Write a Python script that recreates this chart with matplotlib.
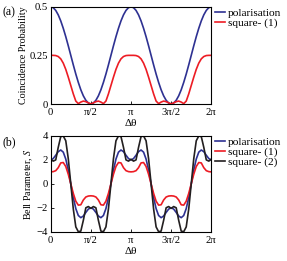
import numpy as np
import matplotlib
matplotlib.use("Agg")
import matplotlib.pyplot as plt

plt.rcParams['font.family'] = ['Liberation Serif', 'DejaVu Serif']
plt.rcParams['font.size'] = 7.7
plt.rcParams['mathtext.fontset'] = 'stix'

theta = np.linspace(0, 2 * np.pi, 65)

# (a) coincidence probability
prob_polarisation = [
    0.500, 0.495, 0.481, 0.458, 0.427, 0.389, 0.346, 0.299, 0.250, 0.201, 0.154, 0.111, 0.073, 0.042, 0.019, 0.005, 0.000,
    0.005, 0.019, 0.042, 0.073, 0.111, 0.154, 0.201, 0.250, 0.299, 0.346, 0.389, 0.427, 0.458, 0.481, 0.495, 0.500,
    0.495, 0.481, 0.458, 0.427, 0.389, 0.346, 0.299, 0.250, 0.201, 0.154, 0.111, 0.073, 0.042, 0.019, 0.005, 0.000,
    0.005, 0.019, 0.042, 0.073, 0.111, 0.154, 0.201, 0.250, 0.299, 0.346, 0.389, 0.427, 0.458, 0.481, 0.495, 0.500,
]
prob_square1 = [
    0.250, 0.250, 0.249, 0.244, 0.232, 0.210, 0.178, 0.138, 0.095, 0.052, 0.015, 0.002, 0.010, 0.015, 0.012, 0.006, 0.000,
    0.006, 0.012, 0.015, 0.010, 0.002, 0.015, 0.052, 0.095, 0.138, 0.178, 0.210, 0.232, 0.244, 0.249, 0.250, 0.250,
    0.250, 0.249, 0.244, 0.232, 0.210, 0.178, 0.138, 0.095, 0.052, 0.015, 0.002, 0.010, 0.015, 0.012, 0.006, 0.000,
    0.006, 0.012, 0.015, 0.010, 0.002, 0.015, 0.052, 0.095, 0.138, 0.178, 0.210, 0.232, 0.244, 0.249, 0.250, 0.250,
]

# (b) Bell parameter S
bell_polarisation = [
    2.000, 2.111, 2.389, 2.690, 2.828, 2.648, 2.072, 1.141, 0.000, -1.141, -2.072, -2.648, -2.828, -2.690, -2.389, -2.111, -2.000,
    -2.111, -2.389, -2.690, -2.828, -2.648, -2.072, -1.141, 0.000, 1.141, 2.072, 2.648, 2.828, 2.690, 2.389, 2.111, 2.000,
    2.111, 2.389, 2.690, 2.828, 2.648, 2.072, 1.141, 0.000, -1.141, -2.072, -2.648, -2.828, -2.690, -2.389, -2.111, -2.000,
    -2.111, -2.389, -2.690, -2.828, -2.648, -2.072, -1.141, 0.000, 1.141, 2.072, 2.648, 2.828, 2.690, 2.389, 2.111, 2.000,
]
bell_square1 = [
    1.00, 1.02, 1.10, 1.35, 1.75, 1.78, 1.45, 0.80, 0.00, -0.80, -1.45, -1.78, -1.75, -1.35, -1.10, -1.02, -1.00,
    -1.02, -1.10, -1.35, -1.75, -1.78, -1.45, -0.80, 0.00, 0.80, 1.45, 1.78, 1.75, 1.35, 1.10, 1.02, 1.00,
    1.02, 1.10, 1.35, 1.75, 1.78, 1.45, 0.80, 0.00, -0.80, -1.45, -1.78, -1.75, -1.35, -1.10, -1.02, -1.00,
    -1.02, -1.10, -1.35, -1.75, -1.78, -1.45, -0.80, 0.00, 0.80, 1.45, 1.78, 1.75, 1.35, 1.10, 1.02, 1.00,
]
bell_square2 = [
    2.05, 1.90, 2.00, 3.05, 3.95, 4.00, 3.60, 2.10, 0.00, -2.10, -3.60, -4.00, -3.95, -3.05, -2.00, -1.90, -2.05,
    -1.90, -2.00, -3.05, -3.95, -4.00, -3.60, -2.10, 0.00, 2.10, 3.60, 4.00, 3.95, 3.05, 2.00, 1.90, 2.05,
    1.90, 2.00, 3.05, 3.95, 4.00, 3.60, 2.10, 0.00, -2.10, -3.60, -4.00, -3.95, -3.05, -2.00, -1.90, -2.05,
    -1.90, -2.00, -3.05, -3.95, -4.00, -3.60, -2.10, 0.00, 2.10, 3.60, 4.00, 3.95, 3.05, 2.00, 1.90, 2.05,
]

xtick_pos = [0, np.pi / 2, np.pi, 3 * np.pi / 2, 2 * np.pi]
xtick_labels = ["0", "π/2", "π", "3π/2", "2π"]

BLUE = "#2e3192"
RED = "#ed1c24"
BLACK = "#231f20"

fig = plt.figure(figsize=(2.87, 2.61), dpi=100)
ax_a = fig.add_axes([0.1767, 0.6015, 0.5596, 0.3728])
ax_b = fig.add_axes([0.1767, 0.1123, 0.5596, 0.3667])

ax_a.plot(theta, prob_polarisation, color=BLUE, lw=1.2, label="polarisation")
ax_a.plot(theta, prob_square1, color=RED, lw=1.2, label="square- (1)")
ax_a.set_ylim(0, 0.5)
ax_a.set_yticks([0, 0.25, 0.5])
ax_a.set_yticklabels(["0", "0.25", "0.5"])
ax_a.set_ylabel("Coincidence Probability", fontsize=7.2, labelpad=1)

ax_b.plot(theta, bell_polarisation, color=BLUE, lw=1.2, label="polarisation")
ax_b.plot(theta, bell_square1, color=RED, lw=1.2, label="square- (1)")
ax_b.plot(theta, bell_square2, color=BLACK, lw=1.2, label="square- (2)")
ax_b.set_ylim(-4, 4)
ax_b.set_yticks([-4, -2, 0, 2, 4])
ax_b.set_ylabel("Bell Parameter, $S$", fontsize=7.2, labelpad=1)

for ax in (ax_a, ax_b):
    ax.set_xlim(0, 2 * np.pi)
    ax.set_xticks(xtick_pos)
    ax.set_xticklabels(xtick_labels)
    ax.set_xlabel("Δθ", fontsize=8, labelpad=1.2)
    ax.tick_params(direction="in", length=2.2, width=0.6, pad=2)
    ax.tick_params(axis="x", pad=3)
    for s in ax.spines.values():
        s.set_linewidth(0.8)
    ax.legend(loc="upper left", bbox_to_anchor=(1.02, 0.99), frameon=False,
              borderaxespad=0, borderpad=0, handlelength=0.9,
              handletextpad=0.3, labelspacing=0.0, fontsize=8.2)

fig.text(0.01, 0.954, "(a)", va="center", fontsize=8.5)
fig.text(0.01, 0.455, "(b)", va="center", fontsize=8.5)

fig.savefig("out.png", dpi=100)
